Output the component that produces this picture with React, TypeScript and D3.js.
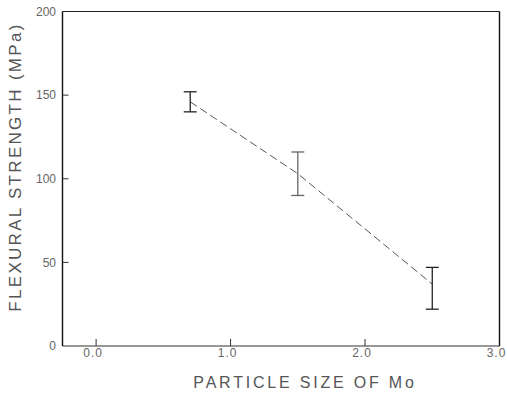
import React from "react";
import * as d3 from "d3";

const particleSize = [0.7, 1.5, 2.5];
const strengthMean = [146, 103, 37];
const strengthLow = [140, 90, 22];
const strengthHigh = [152, 116, 47];
const barColors = ["#222", "#666", "#222"];
const xTicks = [0, 1, 2, 3];
const xTickLabels = ["0.0", "1.0", "2.0", "3.0"];
const yTicks = [0, 50, 100, 150, 200];
const yTickLabels = ["0", "50", "100", "150", "200"];

const W = 507;
const H = 397;

export default function App() {
  const x = d3.scaleLinear().domain([-0.25, 3]).range([62.5, 499.5]);
  const y = d3.scaleLinear().domain([0, 200]).range([346, 11.5]);
  const pts = particleSize.map((p, i) => ({ p, m: strengthMean[i], lo: strengthLow[i], hi: strengthHigh[i], c: barColors[i] }));
  const line = d3
    .line<{ p: number; m: number }>()
    .x((d) => x(d.p))
    .y((d) => y(d.m));
  const [x0, x1] = x.range();
  const [yb, yt] = y.range();
  const font = "'Liberation Sans', Arial, sans-serif";
  return (
    <svg
      width={W}
      height={H}
      style={{ position: "absolute", left: 0, top: 0, background: "#fff" }}
      fontFamily={font}
    >
      {/* frame */}
      <line x1={x0} x2={x1} y1={yt} y2={yt} stroke="#222" strokeWidth={1} />
      <line x1={x0} x2={x1} y1={yb} y2={yb} stroke="#333" strokeWidth={1} />
      <line x1={x0} x2={x0} y1={yt} y2={yb} stroke="#111" strokeWidth={1.4} />
      <line x1={x1} x2={x1} y1={yt} y2={yb} stroke="#111" strokeWidth={1.4} />
      {/* y ticks */}
      {yTicks.map((t, i) => (
        <g key={"y" + t}>
          {t > 0 && t < 200 && (
            <line x1={x0} x2={x0 + 6} y1={y(t)} y2={y(t)} stroke="#333" strokeWidth={1} />
          )}
          <text x={56} y={y(t)} dy="0.35em" textAnchor="end" fontSize={12} fill="#666">
            {yTickLabels[i]}
          </text>
        </g>
      ))}
      {/* x ticks */}
      {xTicks.map((t, i) => (
        <g key={"x" + t}>
          {t < 3 && <line x1={x(t)} x2={x(t)} y1={yb} y2={yb - 7} stroke="#333" strokeWidth={1} />}
          <text x={x(t) - 3} y={357} textAnchor="middle" fontSize={12} fill="#666" letterSpacing={1}>
            {xTickLabels[i]}
          </text>
        </g>
      ))}
      {/* connecting dashed line */}
      <path d={line(pts) || ""} fill="none" stroke="#555" strokeWidth={1} strokeDasharray="8,4" />
      {/* error bars */}
      {pts.map((d, i) => (
        <g key={"e" + i} stroke={d.c} strokeWidth={1.3}>
          <line x1={x(d.p)} x2={x(d.p)} y1={y(d.hi)} y2={y(d.lo)} />
          <line x1={x(d.p) - 6.5} x2={x(d.p) + 6.5} y1={y(d.hi)} y2={y(d.hi)} />
          <line x1={x(d.p) - 6.5} x2={x(d.p) + 6.5} y1={y(d.lo)} y2={y(d.lo)} />
        </g>
      ))}
      {/* axis titles */}
      <text x={305} y={388} textAnchor="middle" fontSize={16} fill="#555" letterSpacing={2.8}>
        PARTICLE SIZE OF Mo
      </text>
      <text
        transform={`translate(21,167) rotate(-90)`}
        textAnchor="middle"
        fontSize={17}
        fill="#555"
        letterSpacing={2.3}
      >
        FLEXURAL STRENGTH (MPa)
      </text>
    </svg>
  );
}
